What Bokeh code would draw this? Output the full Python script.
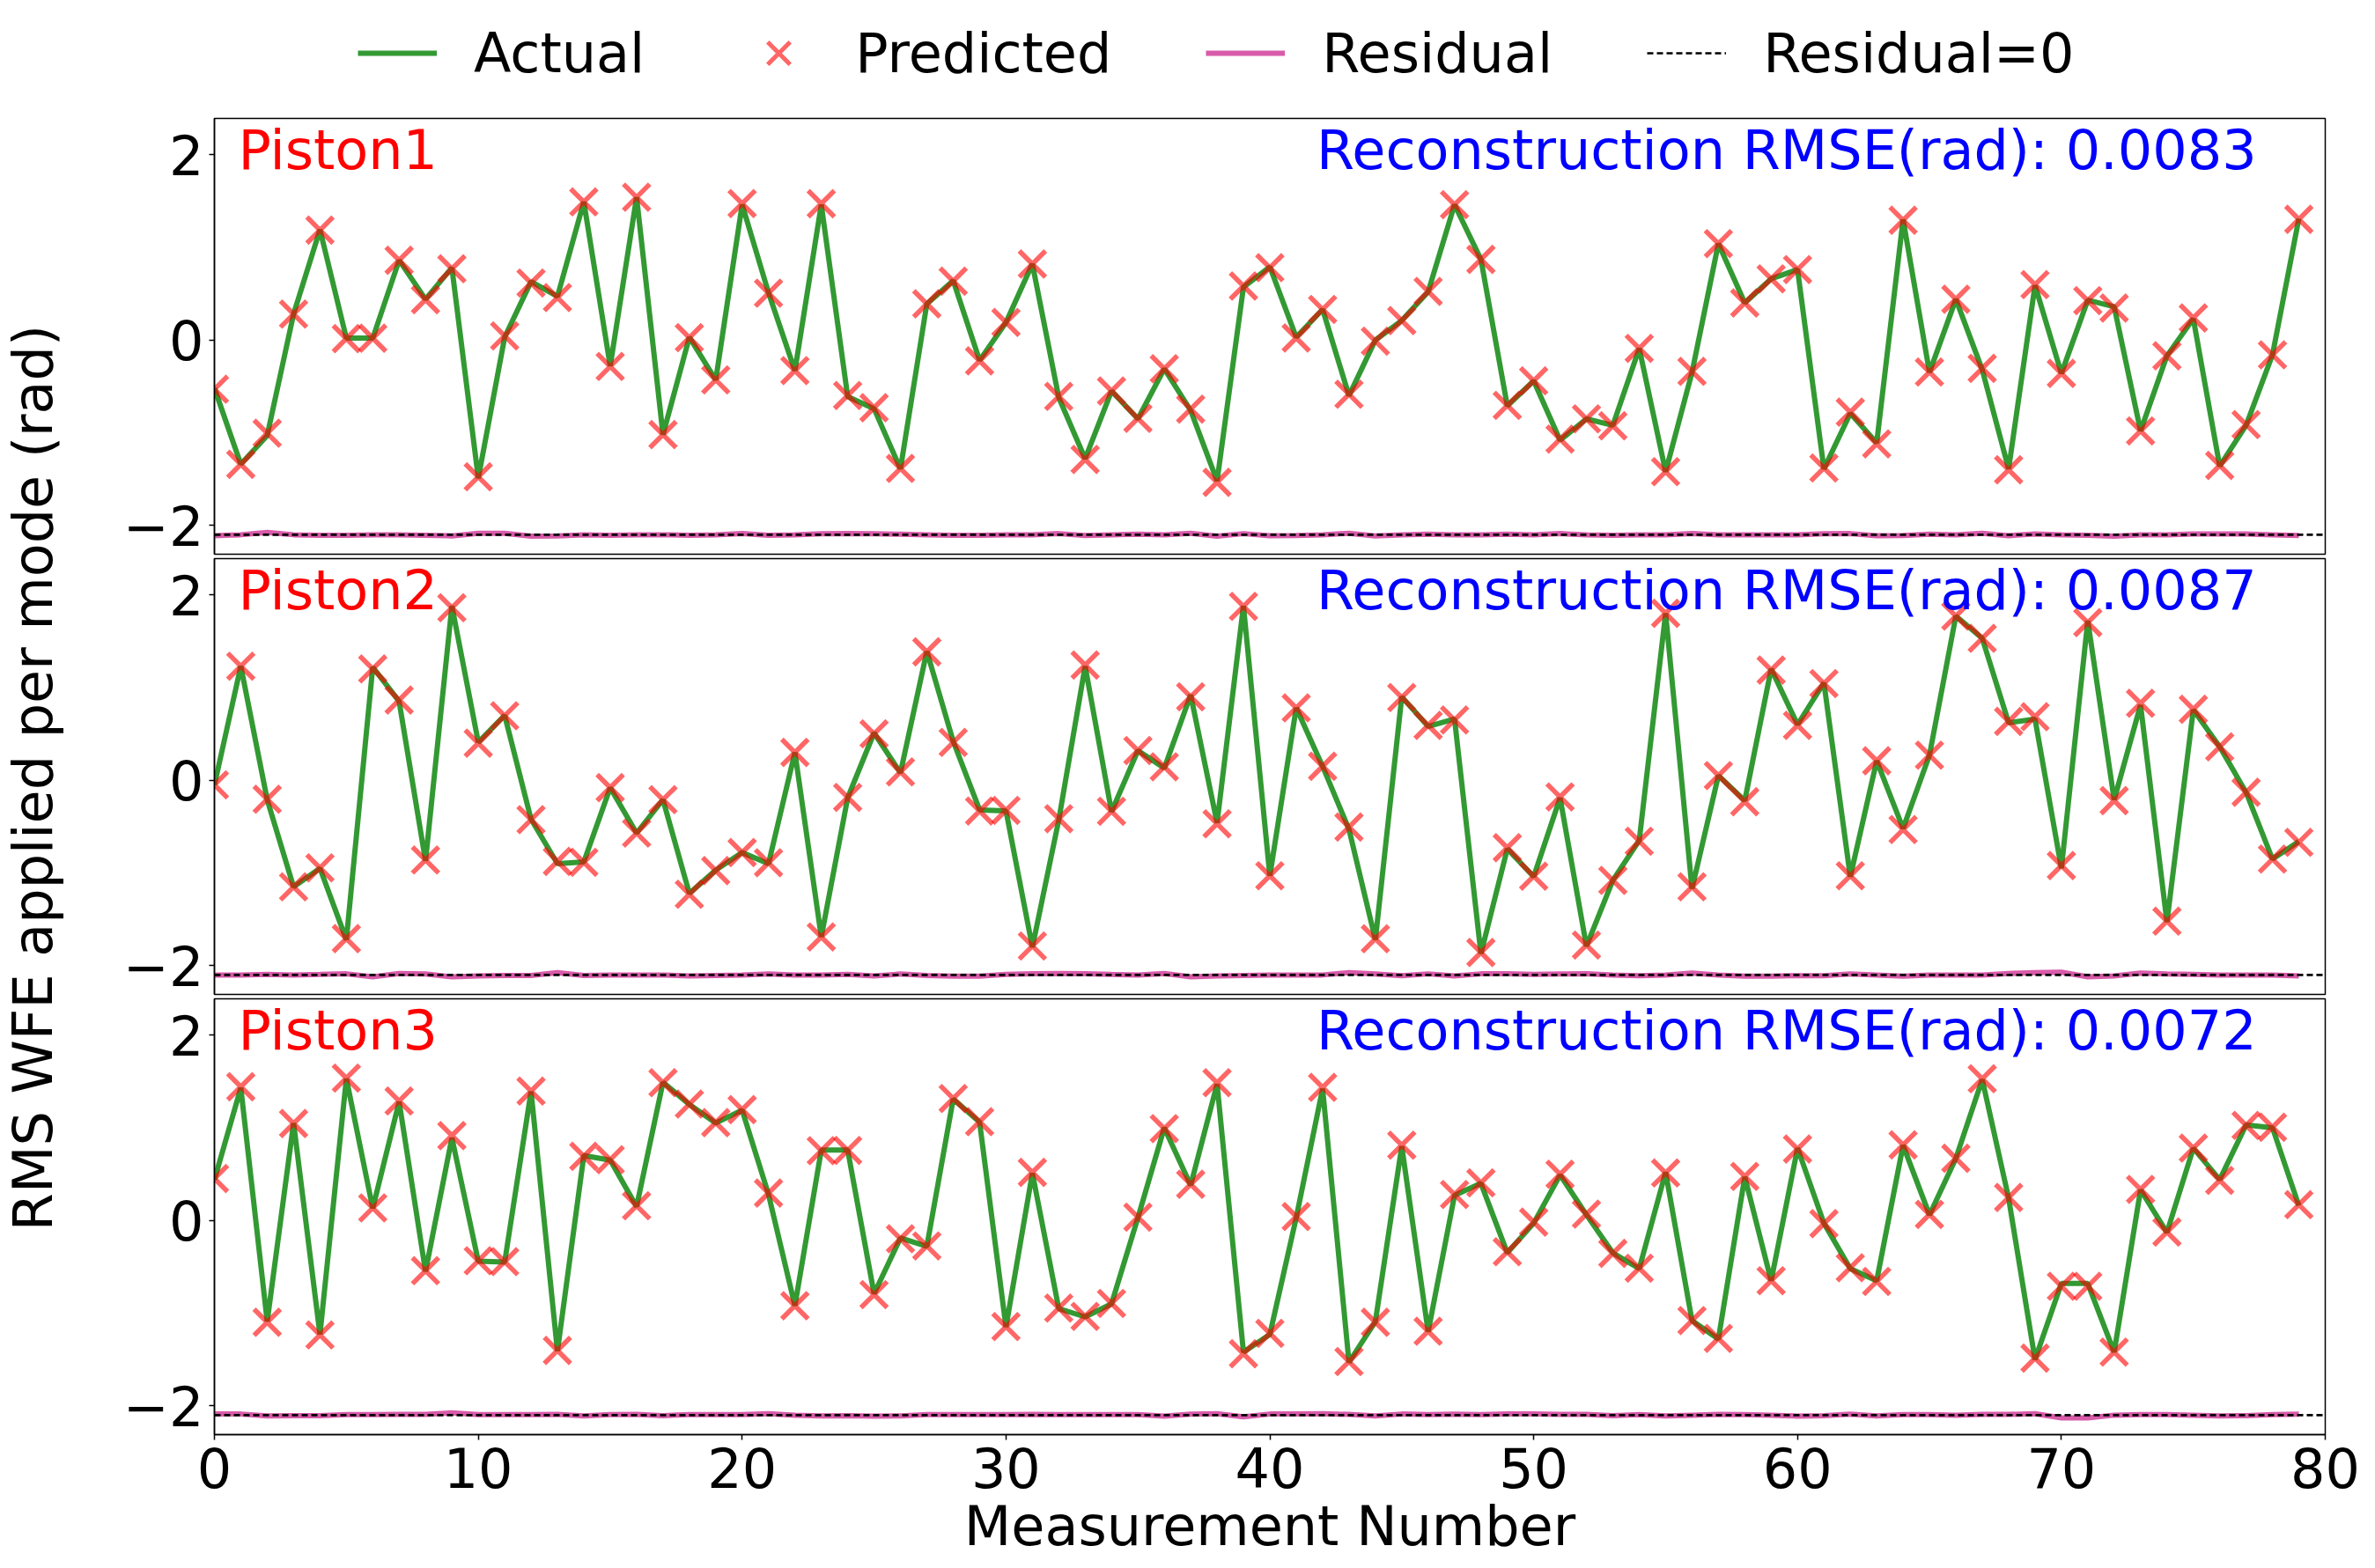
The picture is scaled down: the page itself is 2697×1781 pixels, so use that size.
import math
from bokeh.plotting import figure
from bokeh.models import Span, Label, Legend, LegendItem, FixedTicker, Range1d
from bokeh.layouts import column, row
from bokeh.embed import file_html
from bokeh.resources import INLINE

# ---------------- data ----------------
measurement = list(range(80))

piston1_actual = [-0.52, -1.34, -1.03, 0.28, 1.19, 0.02, 0.02, 0.86, 0.44, 0.78,
                  -1.49, 0.03, 0.63, 0.47, 1.49, -0.28, 1.54, -1.02, 0.03, -0.43,
                  1.46, 0.51, -0.33, 1.46, -0.61, -0.74, -1.39, 0.39, 0.64, -0.22,
                  0.19, 0.82, -0.62, -1.28, -0.55, -0.85, -0.31, -0.76, -1.52, 0.57,
                  0.79, 0.03, 0.33, -0.60, 0.00, 0.21, 0.52, 1.46, 0.87, -0.71,
                  -0.44, -1.08, -0.85, -0.92, -0.09, -1.42, -0.35, 1.04, 0.40, 0.66,
                  0.76, -1.39, -0.79, -1.11, 1.30, -0.35, 0.44, -0.32, -1.39, 0.59,
                  -0.36, 0.43, 0.36, -0.98, -0.17, 0.23, -1.36, -0.92, -0.16, 1.31]

piston2_actual = [-0.05, 1.23, -0.21, -1.15, -0.95, -1.72, 1.22, 0.85, -0.87, 1.88,
                  0.41, 0.70, -0.42, -0.90, -0.88, -0.08, -0.57, -0.21, -1.22, -0.97,
                  -0.78, -0.90, 0.30, -1.69, -0.19, 0.51, 0.08, 1.39, 0.42, -0.32,
                  -0.33, -1.80, -0.43, 1.23, -0.34, 0.32, 0.13, 0.92, -0.46, 1.88,
                  -1.03, 0.78, 0.15, -0.53, -1.72, 0.90, 0.58, 0.66, -1.87, -0.74,
                  -1.04, -0.19, -1.79, -1.08, -0.65, 1.80, -1.17, 0.05, -0.22, 1.20,
                  0.60, 1.05, -1.04, 0.21, -0.52, 0.27, 1.77, 1.53, 0.62, 0.66,
                  -0.95, 1.72, -0.21, 0.81, -1.53, 0.76, 0.36, -0.13, -0.85, -0.66]

piston3_actual = [0.44, 1.43, -1.09, 1.05, -1.23, 1.53, 0.13, 1.28, -0.55, 0.89,
                  -0.44, -0.45, 1.39, -1.41, 0.70, 0.65, 0.15, 1.49, 1.25, 1.05,
                  1.19, 0.28, -0.92, 0.76, 0.76, -0.79, -0.19, -0.28, 1.31, 1.06,
                  -1.15, 0.51, -0.95, -1.04, -0.90, 0.03, 1.00, 0.38, 1.47, -1.42,
                  -1.23, 0.03, 1.42, -1.53, -1.09, 0.80, -1.20, 0.27, 0.40, -0.35,
                  -0.03, 0.49, 0.06, -0.35, -0.52, 0.52, -1.08, -1.28, 0.47, -0.65,
                  0.78, -0.03, -0.52, -0.65, 0.81, 0.06, 0.67, 1.52, 0.24, -1.50,
                  -0.68, -0.68, -1.42, 0.33, -0.13, 0.78, 0.44, 1.03, 1.00, 0.16]

# residual = predicted - actual
piston1_residual = [-0.010, 0.000, 0.025, 0.000, -0.005, -0.005, 0.000, 0.000, -0.005, -0.012,
                    0.015, 0.015, -0.015, -0.012, 0.000, -0.005, 0.000, 0.000, -0.005, 0.000,
                    0.012, -0.005, 0.000, 0.010, 0.012, 0.010, 0.005, 0.000, -0.005, -0.005,
                    0.000, 0.000, 0.012, -0.008, 0.000, 0.005, 0.000, 0.015, -0.015, 0.012,
                    -0.010, -0.008, 0.000, 0.015, -0.012, 0.000, 0.005, 0.000, 0.000, 0.005,
                    0.000, 0.012, 0.000, -0.005, 0.000, 0.000, 0.012, 0.000, 0.000, 0.000,
                    0.000, 0.010, 0.012, -0.010, -0.008, 0.005, 0.000, 0.015, -0.010, 0.008,
                    0.000, -0.005, -0.015, 0.000, 0.000, 0.008, 0.008, 0.008, 0.000, -0.008]

piston2_residual = [0.000, 0.000, 0.005, 0.000, 0.005, 0.012, -0.020, 0.015, 0.010, -0.020,
                    -0.010, -0.005, -0.005, 0.025, -0.005, 0.000, 0.000, 0.000, -0.010, -0.005,
                    0.000, 0.010, 0.000, 0.000, 0.005, -0.010, 0.010, -0.005, -0.012, -0.012,
                    0.005, 0.012, 0.015, 0.012, 0.005, 0.000, 0.015, -0.020, -0.010, -0.005,
                    0.000, 0.000, 0.000, 0.025, 0.010, -0.008, 0.012, -0.010, 0.012, 0.012,
                    0.005, 0.010, 0.012, 0.000, -0.008, 0.000, 0.020, 0.000, -0.012, -0.012,
                    -0.008, -0.008, 0.010, 0.000, -0.012, 0.000, 0.000, 0.000, 0.015, 0.025,
                    0.030, -0.020, -0.010, 0.020, 0.010, 0.005, 0.000, 0.000, 0.000, -0.010]

piston3_residual = [0.012, 0.012, -0.008, -0.005, -0.005, 0.005, 0.005, 0.008, 0.008, 0.025,
                    0.005, 0.005, 0.005, 0.008, -0.008, 0.005, 0.008, -0.005, 0.005, 0.005,
                    0.005, 0.015, 0.000, -0.008, -0.005, -0.010, -0.008, 0.005, 0.005, 0.005,
                    0.005, 0.008, 0.005, 0.005, 0.005, 0.005, -0.010, 0.010, 0.015, -0.018,
                    0.012, 0.012, 0.015, 0.008, -0.008, 0.012, 0.005, 0.010, 0.005, 0.012,
                    0.012, 0.008, 0.008, -0.005, 0.005, -0.008, 0.000, 0.008, 0.005, 0.000,
                    -0.010, -0.005, 0.010, -0.008, 0.005, 0.005, 0.000, 0.008, 0.008, 0.015,
                    -0.030, -0.030, 0.000, 0.005, 0.005, 0.000, -0.008, -0.005, 0.005, 0.010]

panel_names = ["Piston1", "Piston2", "Piston3"]
rmse_values = ["0.0083", "0.0087", "0.0072"]
residual_offset = -2.1
y_ticks = [-2, 0, 2]
x_ticks = [0, 10, 20, 30, 40, 50, 60, 70, 80]
legend_labels = ["Actual", "Predicted", "Residual", "Residual=0"]
y_label_text = "RMS WFE applied per mode (rad)"
x_label_text = "Measurement Number"

# ---------------- styling ----------------
FONT = "DejaVu Sans"
FS = "62px"
YL_W = 100            # width of the strip holding the shared y label
W_FRAME = 2397
H_FRAME = 495
LEFT = 143            # border between y-label strip and frames
RIGHT = 2681 - YL_W - LEFT - W_FRAME
LEG_H = 132
P3_BOTTOM = 136
OVERLAP = 16          # extra canvas below panels 1-2 (overlapped by next panel)
TOTAL_H = LEG_H + (2 + H_FRAME + 4) + (1 + H_FRAME + 4) + (1 + H_FRAME + P3_BOTTOM)

GREEN = "green"
RED = "red"
PINK = "mediumvioletred"
MARK_SIZE = 42
DASH = "7 4"

x_range = Range1d(0, 80)
y_range = Range1d(-2.31, 2.39)


def style_yaxis(p):
    ax = p.yaxis[0]
    ax.ticker = FixedTicker(ticks=y_ticks)
    ax.major_label_overrides = {-2: "\u22122", 0: "0", 2: "2"}
    ax.major_label_text_font = FONT
    ax.major_label_text_font_size = FS
    ax.major_label_text_color = "black"
    ax.major_label_standoff = 6
    ax.major_tick_out = 6
    ax.major_tick_in = 0
    ax.major_tick_line_width = 1.5
    ax.major_tick_line_color = "black"
    ax.minor_tick_line_color = None
    ax.axis_line_width = 1.5
    ax.axis_line_color = "black"


def make_panel(actual, residual, name, rmse, top, bottom, show_x, margin=None):
    p = figure(frame_width=W_FRAME, frame_height=H_FRAME,
               x_range=x_range, y_range=y_range,
               output_backend="svg", toolbar_location=None,
               x_axis_location="below" if show_x else None,
               min_border_left=LEFT, min_border_right=RIGHT,
               min_border_top=top, min_border_bottom=bottom)
    if margin is not None:
        p.margin = margin
    p.border_fill_alpha = 0
    p.xgrid.visible = False
    p.ygrid.visible = False
    p.outline_line_color = "black"
    p.outline_line_width = 1.5
    p.outline_line_alpha = 1.0

    predicted = [a + r for a, r in zip(actual, residual)]
    resid_plot = [r + residual_offset for r in residual]

    p.line(measurement, actual, line_color=GREEN, line_alpha=0.8, line_width=6)
    p.scatter(measurement, predicted, marker="x", size=MARK_SIZE,
              line_color=RED, line_alpha=0.6, line_width=5.5)
    p.line(measurement, resid_plot, line_color=PINK, line_alpha=0.7, line_width=6)
    p.add_layout(Span(location=residual_offset, dimension="width",
                      line_color="black", line_dash=DASH, line_width=2.7))

    p.add_layout(Label(x=0.9, y=2.05, text=name, text_color="red",
                       text_font=FONT, text_font_size=FS,
                       text_baseline="alphabetic", text_align="left"))
    p.add_layout(Label(x=77.4, y=2.05, text="Reconstruction RMSE(rad): " + rmse,
                       text_color="blue", text_font=FONT, text_font_size=FS,
                       text_baseline="alphabetic", text_align="right"))

    style_yaxis(p)
    if show_x:
        xa = p.xaxis[0]
        xa.ticker = FixedTicker(ticks=x_ticks)
        xa.major_label_text_font = FONT
        xa.major_label_text_font_size = FS
        xa.major_label_text_color = "black"
        xa.major_label_standoff = 8
        xa.major_tick_out = 6
        xa.major_tick_in = 0
        xa.major_tick_line_width = 1.5
        xa.major_tick_line_color = "black"
        xa.minor_tick_line_color = None
        xa.axis_line_width = 1.5
        xa.axis_line_color = "black"
        xa.axis_label = x_label_text
        xa.axis_label_text_font = FONT
        xa.axis_label_text_font_size = FS
        xa.axis_label_text_color = "black"
        xa.axis_label_text_font_style = "normal"
        xa.axis_label_standoff = 4
    return p


# ---------------- legend strip ----------------
lg = figure(frame_width=W_FRAME, height=LEG_H, x_range=(0, 1), y_range=(0, 1),
            output_backend="svg", toolbar_location=None,
            x_axis_location=None, y_axis_location=None,
            min_border_left=LEFT, min_border_right=RIGHT,
            min_border_top=0, min_border_bottom=0)
lg.grid.visible = False
lg.outline_line_color = None
off = [-10, -9]
r_act = lg.line(off, off, line_color=GREEN, line_alpha=0.8, line_width=6)
r_pred = lg.scatter(off, off, marker="x", size=MARK_SIZE, line_color=RED,
                    line_alpha=0.6, line_width=5)
r_res = lg.line(off, off, line_color=PINK, line_alpha=0.7, line_width=6)
r_zero = lg.line(off, off, line_color="black", line_dash=DASH, line_width=2.5)
legend = Legend(items=[LegendItem(label=legend_labels[0], renderers=[r_act]),
                       LegendItem(label=legend_labels[1], renderers=[r_pred]),
                       LegendItem(label=legend_labels[2], renderers=[r_res]),
                       LegendItem(label=legend_labels[3], renderers=[r_zero])],
                orientation="horizontal", location=(163, 27),
                label_text_font=FONT, label_text_font_size=FS,
                label_text_color="black",
                glyph_width=90, glyph_height=90, label_standoff=42, spacing=107,
                padding=0, margin=0, border_line_color=None,
                background_fill_alpha=0)
lg.add_layout(legend)

p1 = make_panel(piston1_actual, piston1_residual, panel_names[0], rmse_values[0],
                top=2, bottom=4 + OVERLAP, show_x=False)
p2 = make_panel(piston2_actual, piston2_residual, panel_names[1], rmse_values[1],
                top=1, bottom=4 + OVERLAP, show_x=False, margin=(-OVERLAP, 0, 0, 0))
p3 = make_panel(piston3_actual, piston3_residual, panel_names[2], rmse_values[2],
                top=1, bottom=P3_BOTTOM, show_x=True, margin=(-OVERLAP, 0, 0, 0))

# ---------------- shared y label strip ----------------
yl = figure(width=YL_W, height=TOTAL_H, x_range=(0, YL_W), y_range=(0, TOTAL_H),
            output_backend="svg", toolbar_location=None,
            x_axis_location=None, y_axis_location=None, min_border=0)
yl.grid.visible = False
yl.outline_line_color = None
yl.add_layout(Label(x=37, y=TOTAL_H - 883, text=y_label_text, angle=math.pi / 2,
                    text_font=FONT, text_font_size=FS, text_color="black",
                    text_align="center", text_baseline="middle"))

layout = row(yl, column(lg, p1, p2, p3, spacing=0), spacing=0)

open("out.html", "w").write(file_html(layout, INLINE))
